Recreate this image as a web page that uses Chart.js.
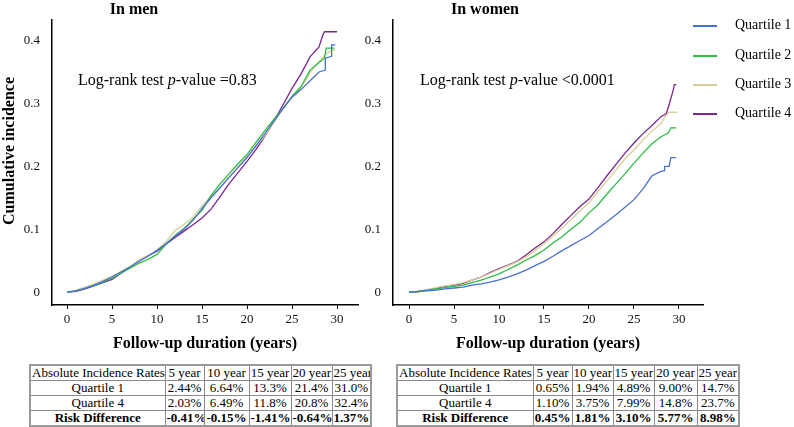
<!DOCTYPE html>
<html lang="en">
<head>
<meta charset="UTF-8">
<title>Cumulative incidence by quartile</title>
<script src="https://cdn.jsdelivr.net/npm/chart.js@4.4.0/dist/chart.umd.min.js"></script>
<style>
  body { margin: 0; width: 794px; height: 427px; position: relative; overflow: hidden; background: #fff;
         font-family: "Liberation Serif", "Times New Roman", serif; color: #000; }
  canvas { position: absolute; top: 0; }
  #menChart { left: 0; }
  #womenChart { left: 360px; }
  .txt { position: absolute; white-space: nowrap; line-height: 1; }
  .panel-title { font-size: 16px; font-weight: bold; transform: translate(-50%, -50%); }
  .ytitle { font-size: 16px; font-weight: bold; transform: translate(-50%, -50%) rotate(-90deg); }
  .note { font-size: 16px; transform: translateY(-50%); }
  .legend-line { position: absolute; height: 1.5px; width: 24px; }
  .legend-text { font-size: 14px; transform: translateY(-50%); }
  table.rates { position: absolute; border-collapse: collapse; border: 2px solid #9a9a9a; font-size: 13px; table-layout: fixed; }
  table.rates td { border: 1px solid #8a8a8a; padding: 0 1px; height: 14px; line-height: 14px; text-align: center; white-space: nowrap; overflow: hidden; }
  table.rates tr:last-child td { font-weight: bold; }
</style>
</head>
<body>
<canvas id="menChart" width="360" height="360"></canvas>
<canvas id="womenChart" width="434" height="360"></canvas>

<div class="txt panel-title" style="left:134px; top:9px;">In men</div>
<div class="txt panel-title" style="left:485px; top:9px;">In women</div>
<div class="txt ytitle" style="left:9px; top:151px;">Cumulative incidence</div>
<div class="txt note" style="left:78px; top:80px;">Log-rank test <i>p</i>-value =0.83</div>
<div class="txt note" style="left:420px; top:80px;">Log-rank test <i>p</i>-value &lt;0.0001</div>
<div id="legend"></div>

<table class="rates" id="menTable" style="left:29px; top:364px; width:341px;"></table>
<table class="rates" id="womenTable" style="left:396px; top:364px; width:342px;"></table>

<script>
// series labels and colours
const seriesNames = ['Quartile 1', 'Quartile 2', 'Quartile 3', 'Quartile 4'];
const seriesColors = ['#4a6fd4', '#2dbd45', '#d8cf98', '#7a2590'];

// axis ticks
const xTicks = [0, 5, 10, 15, 20, 25, 30];
const yTicks = [0, 0.1, 0.2, 0.3, 0.4];
const yTickLabels = ['0', '0.1', '0.2', '0.3', '0.4'];

// follow-up years 0..28, tails added per series
const years = [0,1,2,3,4,5,6,7,8,9,10,11,12,13,14,15,16,17,18,19,20,21,22,23,24,25,26,27,28];

// men - cumulative incidence
const menQ1 = [0,0.002,0.006,0.011,0.017,0.0244,0.032,0.040,0.049,0.057,0.0664,0.077,0.089,0.100,0.114,0.133,0.150,0.166,0.182,0.198,0.214,0.233,0.252,0.272,0.292,0.310,0.322,0.336,0.350];
const menQ1TailT = [28.7, 28.7, 29.4, 29.4, 29.8];
const menQ1TailV = [0.353, 0.372, 0.375, 0.393, 0.393];
const menQ2 = [0,0.002,0.006,0.010,0.016,0.022,0.030,0.038,0.046,0.052,0.060,0.076,0.090,0.101,0.116,0.130,0.154,0.172,0.188,0.204,0.219,0.238,0.257,0.275,0.292,0.311,0.327,0.353,0.365];
const menQ2TailT = [28.6, 28.8, 29.7];
const menQ2TailV = [0.372, 0.388, 0.388];
const menQ3 = [0,0.003,0.008,0.013,0.019,0.025,0.033,0.041,0.050,0.058,0.067,0.080,0.098,0.108,0.119,0.137,0.152,0.167,0.183,0.200,0.216,0.232,0.249,0.270,0.292,0.311,0.325,0.349,0.366];
const menQ3TailT = [28.7, 29.5, 29.8];
const menQ3TailV = [0.378, 0.385, 0.385];
const menQ4 = [0,0.001,0.005,0.010,0.015,0.0203,0.030,0.040,0.050,0.058,0.0649,0.076,0.087,0.097,0.107,0.118,0.132,0.152,0.172,0.190,0.208,0.227,0.248,0.272,0.298,0.324,0.347,0.374,0.390];
const menQ4TailT = [28.4, 28.6, 30.0];
const menQ4TailV = [0.408, 0.414, 0.414];

// women - cumulative incidence
const womenQ1 = [0,0.001,0.002,0.003,0.005,0.0065,0.008,0.011,0.013,0.016,0.0194,0.024,0.029,0.035,0.042,0.0489,0.057,0.066,0.074,0.082,0.090,0.101,0.112,0.123,0.135,0.147,0.164,0.185,0.192];
const womenQ1TailT = [28.4, 28.4, 28.9, 29.1, 29.7];
const womenQ1TailV = [0.193, 0.200, 0.200, 0.214, 0.214];
const womenQ2 = [0,0.001,0.003,0.005,0.007,0.009,0.011,0.015,0.019,0.024,0.029,0.036,0.043,0.051,0.058,0.067,0.078,0.088,0.100,0.111,0.126,0.139,0.156,0.172,0.188,0.205,0.221,0.236,0.247];
const womenQ2TailT = [28.8, 29.1, 29.7];
const womenQ2TailV = [0.253, 0.261, 0.261];
const womenQ3 = [0,0.001,0.004,0.007,0.010,0.012,0.015,0.019,0.024,0.030,0.036,0.042,0.048,0.056,0.066,0.077,0.089,0.102,0.115,0.129,0.142,0.160,0.177,0.194,0.212,0.226,0.242,0.256,0.268];
const womenQ3TailT = [28.5, 28.9, 29.8];
const womenQ3TailV = [0.280, 0.286, 0.286];
const womenQ4 = [0,0.001,0.003,0.006,0.009,0.011,0.014,0.019,0.024,0.031,0.0375,0.043,0.049,0.059,0.070,0.0799,0.093,0.108,0.122,0.136,0.148,0.166,0.185,0.203,0.221,0.237,0.252,0.265,0.279];
const womenQ4TailT = [28.6, 28.9, 29.3, 29.5, 29.7];
const womenQ4TailV = [0.284, 0.298, 0.318, 0.330, 0.330];

// table of absolute incidence rates
const rateYears = ['5 year', '10 year', '15 year', '20 year', '25 year'];
const menRatesQ1 = ['2.44%', '6.64%', '13.3%', '21.4%', '31.0%'];
const menRatesQ4 = ['2.03%', '6.49%', '11.8%', '20.8%', '32.4%'];
const menRiskDiff = ['-0.41%', '-0.15%', '-1.41%', '-0.64%', '1.37%'];
const womenRatesQ1 = ['0.65%', '1.94%', '4.89%', '9.00%', '14.7%'];
const womenRatesQ4 = ['1.10%', '3.75%', '7.99%', '14.8%', '23.7%'];
const womenRiskDiff = ['0.45%', '1.81%', '3.10%', '5.77%', '8.98%'];

const serif = '"Liberation Serif", "Times New Roman", serif';

function toPoints(vals, tailT, tailV) {
  const pts = years.map((t, i) => ({ x: t, y: vals[i] }));
  tailT.forEach((t, i) => pts.push({ x: t, y: tailV[i] }));
  return pts;
}

function makeDatasets(list) {
  return list.map((pts, i) => ({
    label: seriesNames[i],
    data: pts,
    borderColor: seriesColors[i],
    borderWidth: 1.3,
    pointRadius: 0,
    tension: 0,
    fill: false
  }));
}

Chart.defaults.font.family = serif;
Chart.defaults.color = '#111';

function makeChart(id, datasets, yWidth, xMin, xMax, padRight) {
  return new Chart(document.getElementById(id), {
    type: 'line',
    data: { datasets: datasets },
    options: {
      responsive: false,
      animation: false,
      devicePixelRatio: 1,
      layout: { padding: { top: 18, right: padRight, left: 0, bottom: 0 } },
      plugins: { legend: { display: false }, tooltip: { enabled: false } },
      scales: {
        x: {
          type: 'linear',
          min: xMin,
          max: xMax,
          afterBuildTicks: s => { s.ticks = xTicks.map(v => ({ value: v })); },
          afterFit: s => { s.height = 55; },
          ticks: { font: { family: serif, size: 13 }, padding: 3, color: '#111', maxRotation: 0 },
          grid: { drawOnChartArea: false, drawTicks: true, tickLength: 4, color: '#000', lineWidth: 1 },
          border: { display: true, color: '#000', width: 1.5 },
          title: { display: true, text: 'Follow-up duration (years)', font: { family: serif, size: 16, weight: 'bold' }, color: '#000', padding: { top: 0, bottom: 7 } }
        },
        y: {
          min: -0.0205,
          max: 0.433,
          afterBuildTicks: s => { s.ticks = yTicks.map(v => ({ value: v })); },
          afterFit: s => { s.width = yWidth; },
          ticks: { font: { family: serif, size: 13 }, padding: 12, color: '#111', callback: (v) => yTickLabels[yTicks.indexOf(v)] },
          grid: { display: false, drawTicks: false },
          border: { display: true, color: '#000', width: 1.5 }
        }
      }
    }
  });
}

makeChart('menChart', makeDatasets([
  toPoints(menQ1, menQ1TailT, menQ1TailV),
  toPoints(menQ2, menQ2TailT, menQ2TailV),
  toPoints(menQ3, menQ3TailT, menQ3TailV),
  toPoints(menQ4, menQ4TailT, menQ4TailV)
]), 52, -1.67, 32.33, 2);

makeChart('womenChart', makeDatasets([
  toPoints(womenQ1, womenQ1TailT, womenQ1TailV),
  toPoints(womenQ2, womenQ2TailT, womenQ2TailV),
  toPoints(womenQ3, womenQ3TailT, womenQ3TailV),
  toPoints(womenQ4, womenQ4TailT, womenQ4TailV)
]), 33, -1.78, 32.67, 91);

// legend
const legendTops = [25, 55, 84, 113];
const legend = document.getElementById('legend');
seriesNames.forEach((name, i) => {
  const line = document.createElement('div');
  line.className = 'legend-line';
  line.style.left = '693px';
  line.style.top = legendTops[i] + 'px';
  line.style.background = seriesColors[i];
  legend.appendChild(line);
  const lab = document.createElement('div');
  lab.className = 'txt legend-text';
  lab.style.left = '735px';
  lab.style.top = legendTops[i] + 'px';
  lab.textContent = name;
  legend.appendChild(lab);
});

// tables
function fillTable(id, widths, q1, q4, rd) {
  const t = document.getElementById(id);
  let html = '<colgroup>' + widths.map(w => '<col style="width:' + w + 'px">').join('') + '</colgroup>';
  html += '<tr><td>Absolute Incidence Rates</td>' + rateYears.map(y => '<td>' + y + '</td>').join('') + '</tr>';
  html += '<tr><td>Quartile 1</td>' + q1.map(v => '<td>' + v + '</td>').join('') + '</tr>';
  html += '<tr><td>Quartile 4</td>' + q4.map(v => '<td>' + v + '</td>').join('') + '</tr>';
  html += '<tr><td>Risk Difference</td>' + rd.map(v => '<td>' + v + '</td>').join('') + '</tr>';
  t.innerHTML = html;
}
fillTable('menTable', [135, 39, 45, 42, 41, 39], menRatesQ1, menRatesQ4, menRiskDiff);
fillTable('womenTable', [136, 39, 41, 41, 43, 42], womenRatesQ1, womenRatesQ4, womenRiskDiff);
</script>
</body>
</html>
